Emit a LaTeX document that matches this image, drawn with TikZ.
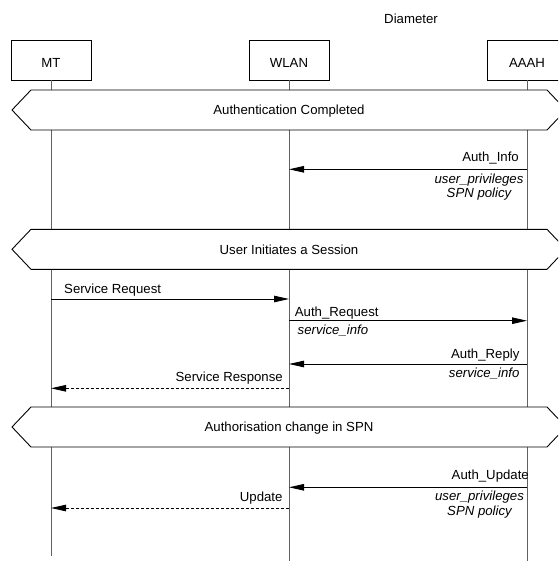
\documentclass[tikz,border=0pt]{standalone}
\usepackage{fontspec}
\setmainfont{Liberation Sans}
\usetikzlibrary{arrows.meta}
\begin{document}
\begin{tikzpicture}[x=1pt,y=-1pt,
  font=\fontsize{13.2}{15}\selectfont,
  entity/.style={draw=black, line width=0.9pt, fill=white,
    minimum width=80pt, minimum height=40pt, inner sep=0pt,
    text height=16pt, text depth=0pt},
  lifeline/.style={draw=black!62, line width=1pt},
  msg/.style={draw=black, line width=0.9pt,
    -{Triangle[length=15pt,width=6.5pt]}},
  reply/.style={msg, dash pattern=on 3pt off 2pt},
  phase/.style={draw=black, line width=0.9pt, fill=white},
  lbl/.style={inner sep=0pt, anchor=base},
  lble/.style={inner sep=0pt, anchor=base east},
  lblw/.style={inner sep=0pt, anchor=base west},
  param/.style={inner sep=0pt, anchor=base, font=\fontsize{13.2}{15}\selectfont\itshape},
  paramw/.style={param, anchor=base west},
  parame/.style={param, anchor=base east}]

\clip (0,0) rectangle (558,561);
\fill[white] (0,0) rectangle (558,561);

% protocol name
\node[lbl] (proto) at (411,23.7) {Diameter};

% entities
\node[entity] (mt)   at (51,60)  {MT};
\node[entity] (wlan) at (289,60) {WLAN};
\node[entity] (aaah) at (527,60) {AAAH};

% lifelines
\coordinate (mtend)   at (51,556);
\coordinate (wlanend) at (289,562);
\coordinate (aaahend) at (527,562);
\draw[lifeline] (mt.south)   -- (mtend);
\draw[lifeline] (wlan.south) -- (wlanend);
\draw[lifeline] (aaah.south) -- (aaahend);

% phase bars
\draw[phase] (12,110) -- (31,90) -- (547,90) -- (566,110) -- (547,130) -- (31,130) -- cycle;
\node[lbl] (ph1) at (289,114.7) {Authentication Completed};

\draw[phase] (12,249.3) -- (31,229.3) -- (547,229.3) -- (566,249.3) -- (547,269.3) -- (31,269.3) -- cycle;
\node[lbl] (ph2) at (289,254) {User Initiates a Session};

\draw[phase] (12,427) -- (31,407) -- (547,407) -- (566,427) -- (547,447) -- (31,447) -- cycle;
\node[lbl] (ph3) at (289,431.5) {Authorisation change in SPN};

% Auth_Info
\draw[msg] (aaah |- 0,169.3) -- (wlan |- 0,169.3);
\node[lble] (ainfo) at (519,162) {Auth\_Info};
\node[param] (up1) at (479,183.3) {user\_privileges};
\node[param] (spn1) at (479,197.5) {SPN policy};

% session set-up
\draw[msg] (mt |- 0,299) -- (wlan |- 0,299);
\node[lblw] (sreq) at (64,293) {Service Request};

\draw[msg] (wlan |- 0,320.7) -- (aaah |- 0,320.7);
\node[lblw] (areq) at (294.7,316) {Auth\_Request};
\node[paramw] (si1) at (297.5,334) {service\_info};

\draw[msg] (aaah |- 0,364) -- (wlan |- 0,364);
\node[lble] (arep) at (519.6,358.7) {Auth\_Reply};
\node[parame] (si2) at (519.6,377.7) {service\_info};

\draw[reply] (wlan |- 0,388.3) -- (mt |- 0,388.3);
\node[lble] (sresp) at (283,381.5) {Service Response};

% authorisation update
\draw[msg] (aaah |- 0,487.3) -- (wlan |- 0,487.3);
\node[lble] (aupd) at (529,479.7) {Auth\_Update};
\node[param] (up2) at (479.5,500.3) {user\_privileges};
\node[param] (spn2) at (479.5,515.3) {SPN policy};

\draw[reply] (wlan |- 0,508) -- (mt |- 0,508);
\node[lble] (upd) at (282.7,501) {Update};

\end{tikzpicture}
\end{document}
